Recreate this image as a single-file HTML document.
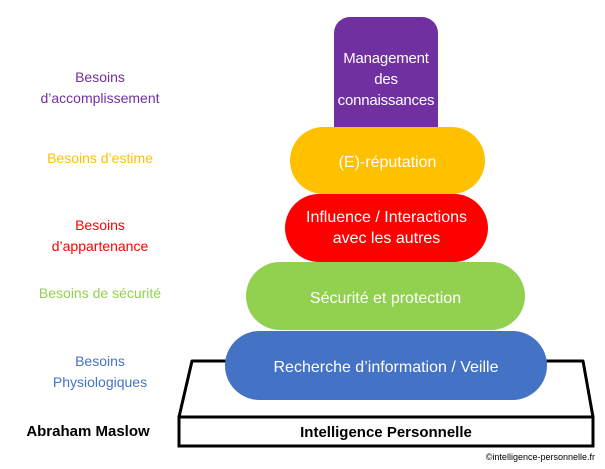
<!DOCTYPE html>
<html><head><meta charset="utf-8"><style>
body{margin:0;width:605px;height:469px;background:#fff;position:relative;overflow:hidden;font-family:"Liberation Sans",sans-serif}
.s{position:absolute;color:#fff;display:flex;align-items:center;justify-content:center;text-align:center;font-size:16px;line-height:21px}
.l{position:absolute;left:0;width:200px;text-align:center;font-size:14px;line-height:21px}
</style></head><body>
<svg width="605" height="469" style="position:absolute;left:0;top:0">
<polygon points="192,361 583,361 593,417 179,417" fill="#fff" stroke="#000" stroke-width="3" stroke-linejoin="round"/>
<rect x="179" y="417" width="414" height="29" fill="#fff" stroke="#000" stroke-width="3"/>
</svg>
<div class="s" style="left:334px;top:17px;width:104px;height:112px;background:#7030A0;border-radius:16px 16px 0 0;padding-top:12px;box-sizing:border-box;font-size:15px;letter-spacing:-0.2px">Management<br>des<br>connaissances</div>
<div class="s" style="left:290px;top:127px;width:195px;height:67px;background:#FFC000;border-radius:34px;padding-top:4px;box-sizing:border-box">(E)-réputation</div>
<div class="s" style="left:285px;top:194px;width:203px;height:68px;background:#FF0000;border-radius:34px">Influence / Interactions<br>avec les autres</div>
<div class="s" style="left:246px;top:262px;width:279px;height:68px;background:#92D050;border-radius:34px;padding-top:4px;box-sizing:border-box">Sécurité et protection</div>
<div class="s" style="left:225px;top:331px;width:322px;height:69px;background:#4472C4;border-radius:35px;padding-top:4px;box-sizing:border-box">Recherche d’information / Veille</div>
<div style="position:absolute;left:179px;top:420px;width:414px;text-align:center;font-size:15px;font-weight:bold;line-height:26px">Intelligence Personnelle</div>
<div style="position:absolute;right:10px;top:452px;font-size:9px">©intelligence-personnelle.fr</div>
<div class="l" style="top:67px;color:#7030A0">Besoins<br>d’accomplissement</div>
<div class="l" style="top:148px;color:#FFC000">Besoins d’estime</div>
<div class="l" style="top:215px;color:#FF0000">Besoins<br>d’appartenance</div>
<div class="l" style="top:283px;color:#92D050">Besoins de sécurité</div>
<div class="l" style="top:351px;color:#4472C4">Besoins<br>Physiologiques</div>
<div class="l" style="top:421px;left:-12px;font-weight:bold;color:#000;font-size:15px">Abraham Maslow</div>
</body></html>
